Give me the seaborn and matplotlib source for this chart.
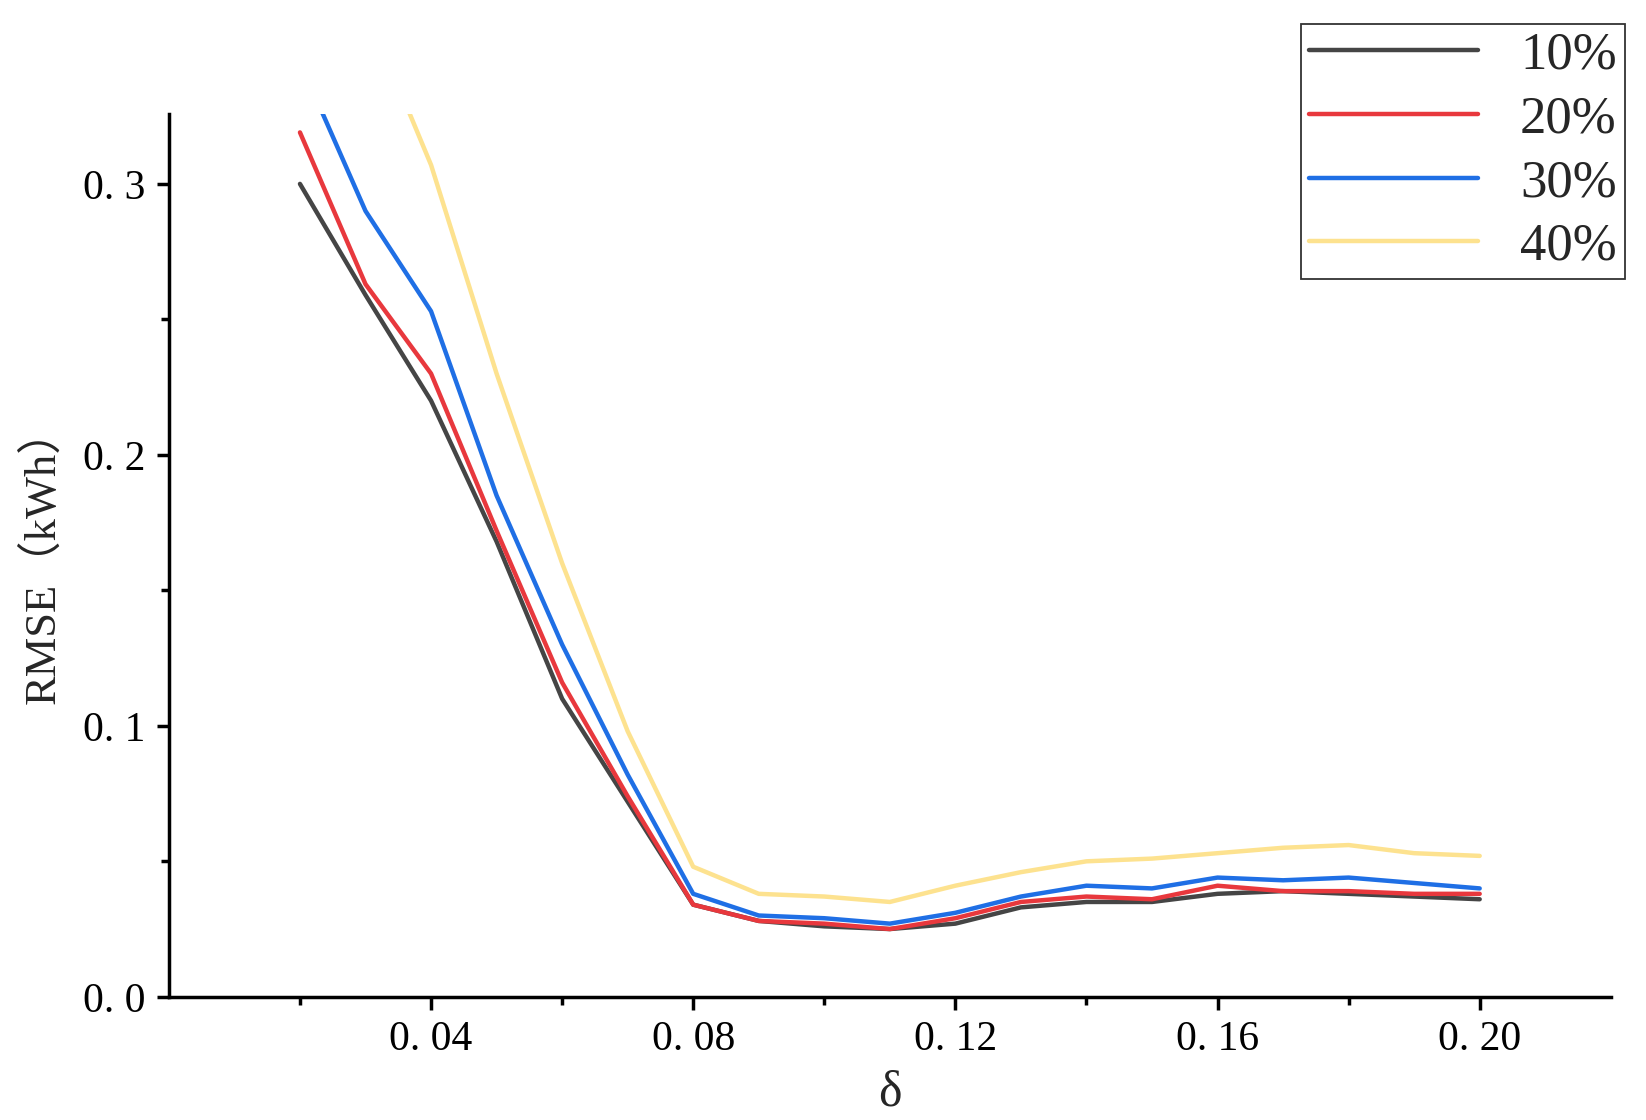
import pandas as pd
import matplotlib.pyplot as plt
import seaborn as sns

delta = [0.02, 0.03, 0.04, 0.05, 0.06, 0.07, 0.08, 0.09, 0.10, 0.11,
         0.12, 0.13, 0.14, 0.15, 0.16, 0.17, 0.18, 0.19, 0.20]
rmse_10 = [0.300, 0.259, 0.220, 0.168, 0.110, 0.072, 0.034, 0.028, 0.026, 0.025,
           0.027, 0.033, 0.035, 0.035, 0.038, 0.039, 0.038, 0.037, 0.036]
rmse_20 = [0.319, 0.263, 0.230, 0.172, 0.116, 0.074, 0.034, 0.028, 0.027, 0.025,
           0.029, 0.035, 0.037, 0.036, 0.041, 0.039, 0.039, 0.038, 0.038]
rmse_30 = [0.345, 0.290, 0.253, 0.185, 0.130, 0.082, 0.038, 0.030, 0.029, 0.027,
           0.031, 0.037, 0.041, 0.040, 0.044, 0.043, 0.044, 0.042, 0.040]
rmse_40 = [0.420, 0.365, 0.307, 0.230, 0.160, 0.098, 0.048, 0.038, 0.037, 0.035,
           0.041, 0.046, 0.050, 0.051, 0.053, 0.055, 0.056, 0.053, 0.052]
labels = ['10%', '20%', '30%', '40%']
colors = ['#454545', '#e8383d', '#1f6fe5', '#fde28f']

df = pd.DataFrame({'delta': delta * 4,
                   'rmse': rmse_10 + rmse_20 + rmse_30 + rmse_40,
                   'rate': [l for l in labels for _ in delta]})

sns.set_style('ticks')
plt.rcParams['font.family'] = ['Liberation Serif', 'Noto Sans CJK SC']

fig = plt.figure(figsize=(16.46, 11.2), dpi=100)
ax = fig.add_axes([0.1026, 0.110, 0.876, 0.788])
sns.lineplot(data=df, x='delta', y='rmse', hue='rate', palette=colors,
             linewidth=3.2, ax=ax, legend=True)

ax.set_xlim(0, 0.22)
ax.set_ylim(0, 0.3257)
ax.set_xticks([0.04, 0.08, 0.12, 0.16, 0.20])
ax.set_xticklabels(['0. 04', '0. 08', '0. 12', '0. 16', '0. 20'])
ax.set_xticks([0.02, 0.06, 0.10, 0.14, 0.18], minor=True)
ax.set_yticks([0.0, 0.1, 0.2, 0.3])
ax.set_yticklabels(['0. 0', '0. 1', '0. 2', '0. 3'])
ax.set_yticks([0.05, 0.15, 0.25], minor=True)
ax.tick_params(axis='both', which='major', direction='out', length=9, width=2.5,
               labelsize=30, color='black', labelcolor='black', pad=8)
ax.tick_params(axis='both', which='minor', direction='out', length=6, width=2.5, color='black')
for s in ['left', 'bottom']:
    ax.spines[s].set_linewidth(2.5)
    ax.spines[s].set_color('black')
sns.despine(ax=ax)
ax.set_xlabel('δ', fontsize=36, labelpad=8)
ax.set_ylabel('RMSE（kWh）', fontsize=32, labelpad=14)

handles, _ = ax.get_legend_handles_labels()
ax.legend(handles, labels, loc='upper right', bbox_to_anchor=(0.987, 0.979),
          bbox_transform=fig.transFigure, fontsize=38, frameon=True, fancybox=False,
          edgecolor='black', handlelength=3.2, borderpad=0.15, labelspacing=0.3,
          handletextpad=0.8, borderaxespad=0)
ax.get_legend().get_frame().set_linewidth(1.3)

plt.savefig('out.png', dpi=100)
